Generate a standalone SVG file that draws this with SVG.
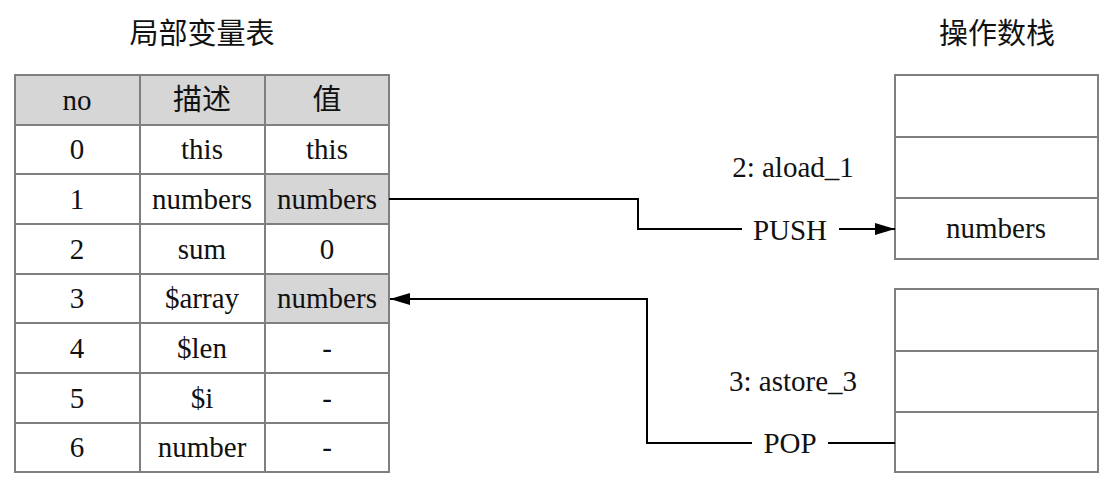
<svg xmlns="http://www.w3.org/2000/svg" width="1111" height="485" viewBox="0 0 1111 485">
<defs>
<style>
.t{font-family:'Liberation Serif','Times New Roman','DejaVu Serif',serif;font-size:29px;fill:#111;text-anchor:middle}
.c{font-family:'Noto Sans CJK SC',sans-serif;font-size:29px;fill:#111;text-anchor:middle}
.cell{fill:#fff;stroke:#7f7f7f;stroke-width:2}
.hl{fill:#d6d6d6;stroke:#7f7f7f;stroke-width:2}
.ln{fill:none;stroke:#000;stroke-width:2}
</style>
<marker id="ah" markerWidth="22" markerHeight="14" refX="20" refY="7" orient="auto" markerUnits="userSpaceOnUse">
<path d="M0,1 L20,7 L0,13 Z" fill="#000"/>
</marker>
</defs>
<rect width="1111" height="485" fill="#fff"/>

<g id="title-local">
<text class="c" x="202" y="44">局部变量表</text>
</g>
<g id="title-stack">
<text class="c" x="997" y="44">操作数栈</text>
</g>

<g id="local-table">
<rect class="hl" x="15" y="75" width="125" height="50"/>
<rect class="hl" x="140" y="75" width="125" height="50"/>
<rect class="hl" x="265" y="75" width="124" height="50"/>
<text class="t" x="77" y="110">no</text>
<text class="c" x="202" y="110">描述</text>
<text class="c" x="327" y="110">值</text>

<rect class="cell" x="15" y="125" width="125" height="49"/>
<rect class="cell" x="140" y="125" width="125" height="49"/>
<rect class="cell" x="265" y="125" width="124" height="49"/>
<text class="t" x="77" y="159">0</text>
<text class="t" x="202" y="159">this</text>
<text class="t" x="327" y="159">this</text>

<rect class="cell" x="15" y="174" width="125" height="50"/>
<rect class="cell" x="140" y="174" width="125" height="50"/>
<rect class="hl" x="265" y="174" width="124" height="50"/>
<text class="t" x="77" y="209">1</text>
<text class="t" x="202" y="209">numbers</text>
<text class="t" x="327" y="209">numbers</text>

<rect class="cell" x="15" y="224" width="125" height="50"/>
<rect class="cell" x="140" y="224" width="125" height="50"/>
<rect class="cell" x="265" y="224" width="124" height="50"/>
<text class="t" x="77" y="259">2</text>
<text class="t" x="202" y="259">sum</text>
<text class="t" x="327" y="259">0</text>

<rect class="cell" x="15" y="274" width="125" height="49"/>
<rect class="cell" x="140" y="274" width="125" height="49"/>
<rect class="hl" x="265" y="274" width="124" height="49"/>
<text class="t" x="77" y="308">3</text>
<text class="t" x="202" y="308">$array</text>
<text class="t" x="327" y="308">numbers</text>

<rect class="cell" x="15" y="323" width="125" height="50"/>
<rect class="cell" x="140" y="323" width="125" height="50"/>
<rect class="cell" x="265" y="323" width="124" height="50"/>
<text class="t" x="77" y="358">4</text>
<text class="t" x="202" y="358">$len</text>
<text class="t" x="327" y="358">-</text>

<rect class="cell" x="15" y="373" width="125" height="50"/>
<rect class="cell" x="140" y="373" width="125" height="50"/>
<rect class="cell" x="265" y="373" width="124" height="50"/>
<text class="t" x="77" y="408">5</text>
<text class="t" x="202" y="408">$i</text>
<text class="t" x="327" y="408">-</text>

<rect class="cell" x="15" y="423" width="125" height="49"/>
<rect class="cell" x="140" y="423" width="125" height="49"/>
<rect class="cell" x="265" y="423" width="124" height="49"/>
<text class="t" x="77" y="457">6</text>
<text class="t" x="202" y="457">number</text>
<text class="t" x="327" y="457">-</text>
</g>

<g id="stack-after-push">
<rect class="cell" x="895" y="75" width="203" height="62"/>
<rect class="cell" x="895" y="137" width="203" height="61"/>
<rect class="cell" x="895" y="198" width="203" height="61"/>
<text class="t" x="996" y="238">numbers</text>
</g>

<g id="stack-after-pop">
<rect class="cell" x="895" y="289" width="203" height="62"/>
<rect class="cell" x="895" y="351" width="203" height="61"/>
<rect class="cell" x="895" y="412" width="203" height="60"/>
</g>

<g id="connectors">
<path class="ln" d="M389,199 H638 V229 H742"/>
<path class="ln" d="M839,229 H895" marker-end="url(#ah)"/>
<path class="ln" d="M752,443 H647 V299 H390" marker-end="url(#ah)"/>
<path class="ln" d="M828,443 H895"/>
</g>

<g id="labels">
<text class="t" x="793" y="177">2: aload_1</text>
<text class="t" x="790" y="240">PUSH</text>
<text class="t" x="793" y="391">3: astore_3</text>
<text class="t" x="790" y="453">POP</text>
</g>
</svg>
